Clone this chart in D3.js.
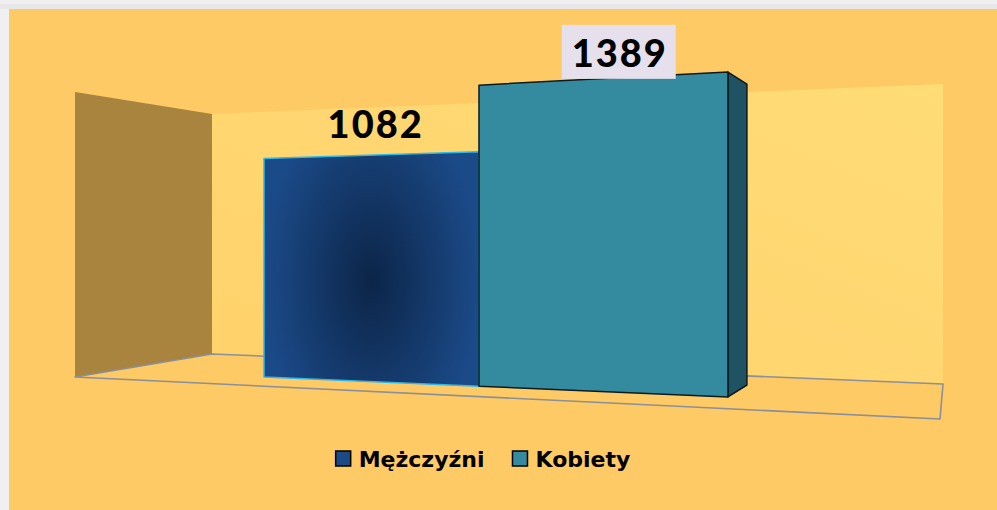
<!DOCTYPE html>
<html>
<head>
<meta charset="utf-8">
<script src="https://cdn.jsdelivr.net/npm/d3@7"></script>
<style>
  html, body { margin: 0; padding: 0; background: #f1f1f1; }
  svg { display: block; }
</style>
</head>
<body>
<div id="chart"></div>
<script>
// dane
const categories = ["Mężczyźni", "Kobiety"];
const values = [1082, 1389];
const valueMax = 1600;

const width = 997, height = 510;

// kolory i przesuniecia etykiet
const barFill = ["url(#gradM)", "#348a9f"];
const barSide = ["#10325c", "#1f5263"];
const barStroke = ["#2fb7e8", "#0c1a20"];
const legendFill = ["#1b4a86", "#348a9f"];
const labelBg = [null, "#e6e0ec"];
const labelShift = [[7, -17], [20, -12]];

const svg = d3.select("#chart")
    .append("svg")
    .attr("width", width)
    .attr("height", height);

const defs = svg.append("defs");
const gm = defs.append("radialGradient")
    .attr("id", "gradM")
    .attr("cx", "0.5").attr("cy", "0.55")
    .attr("r", "0.5")
    .attr("gradientTransform", "translate(0.5,0.55) scale(1,1.6) translate(-0.5,-0.55)");
gm.append("stop").attr("offset", "0%").attr("stop-color", "#0c2548");
gm.append("stop").attr("offset", "100%").attr("stop-color", "#1b4a88");

const gw = defs.append("linearGradient")
    .attr("id", "gradWall")
    .attr("x1", "0").attr("y1", "1").attr("x2", "1").attr("y2", "0");
gw.append("stop").attr("offset", "0%").attr("stop-color", "#ffd16b");
gw.append("stop").attr("offset", "100%").attr("stop-color", "#ffdc77");

// ramka
svg.append("rect").attr("width", width).attr("height", height).attr("fill", "#f0f0f0");
svg.append("rect").attr("x", 0).attr("y", 4).attr("width", width).attr("height", 5).attr("fill", "#e7e7e7");
svg.append("rect").attr("x", 9).attr("y", 9).attr("width", width - 9).attr("height", height - 9).attr("fill", "#feca66");

// perspektywa: u = pozycja wzdluz osi kategorii (0..1), h = wysokosc w px na froncie
const persp = 0.1365;
const px = u => (364.6 * u + 264) / (1 - persp * u);
const py = (u, h) => (377 - 34.2 * u - h) / (1 - persp * u);
const vp = [984, 235], depth = 0.074;
const back = p => [p[0] + depth * (vp[0] - p[0]), p[1] + depth * (vp[1] - p[1])];

const x = d3.scaleBand().domain(categories).range([0, 1]).padding(0);
const y = d3.scaleLinear().domain([0, valueMax]).range([0, valueMax * 0.202]);

// sciany i podloga
const leftWall = [[75, 92], [212, 114], [212, 354], [75, 377]];
const backWall = [[212, 114], [943, 84], [943, 384], [212, 354]];
const floor = [[75, 377], [212, 354], [943, 384], [940, 419]];

svg.append("polygon").attr("points", backWall.join(" ")).attr("fill", "url(#gradWall)");
svg.append("polygon").attr("points", leftWall.join(" ")).attr("fill", "#a8843f");
svg.append("polygon").attr("points", floor.join(" "))
    .attr("fill", "none").attr("stroke", "#8b8f98").attr("stroke-width", 1.6)
    .attr("stroke-linejoin", "round");

// slupki
const bars = categories.map((c, i) => {
    const u0 = x(c), u1 = x(c) + x.bandwidth(), h = y(values[i]);
    return {
        i, c,
        front: [[px(u0), py(u0, 0)], [px(u0), py(u0, h)], [px(u1), py(u1, h)], [px(u1), py(u1, 0)]],
        um: (u0 + u1) / 2, h
    };
});

const g = svg.append("g");
bars.forEach(b => {
    const tr = b.front[2], br = b.front[3];
    g.append("polygon")
        .attr("points", [tr, back(tr), back(br), br].join(" "))
        .attr("fill", barSide[b.i]).attr("stroke", barStroke[b.i]).attr("stroke-width", 1.5)
        .attr("stroke-linejoin", "round");
    g.append("polygon")
        .attr("points", b.front.join(" "))
        .attr("fill", barFill[b.i]).attr("stroke", barStroke[b.i]).attr("stroke-width", 1.5)
        .attr("stroke-linejoin", "round");
});

// etykiety
bars.forEach(b => {
    const cx = px(b.um) + labelShift[b.i][0];
    const base = py(b.um, b.h) + labelShift[b.i][1];
    if (labelBg[b.i]) {
        svg.append("rect")
            .attr("x", cx - 57).attr("y", base - 42)
            .attr("width", 114).attr("height", 54)
            .attr("fill", labelBg[b.i]);
    }
    svg.append("text")
        .attr("x", cx + 1).attr("y", base)
        .attr("text-anchor", "middle")
        .attr("font-family", "Lato, 'DejaVu Sans', sans-serif")
        .attr("font-weight", 900)
        .attr("font-size", "38px")
        .attr("letter-spacing", "2px")
        .attr("fill", "#000")
        .text(values[b.i]);
});

// legenda
const legend = svg.append("g");
let lx = 0;
categories.forEach((c, i) => {
    const item = legend.append("g").attr("transform", `translate(${lx},0)`);
    item.append("rect").attr("x", 0).attr("y", -16).attr("width", 15).attr("height", 15)
        .attr("fill", legendFill[i]).attr("stroke", "#000").attr("stroke-width", 1.5);
    const t = item.append("text").attr("x", 23).attr("y", 0)
        .attr("font-family", "'DejaVu Sans', sans-serif")
        .attr("font-weight", "bold")
        .attr("font-size", "22px")
        .text(c);
    lx += 23 + t.node().getComputedTextLength() + 28;
});
const lw = lx - 28;
legend.attr("transform", `translate(${483 - lw / 2},467)`);
</script>
</body>
</html>
